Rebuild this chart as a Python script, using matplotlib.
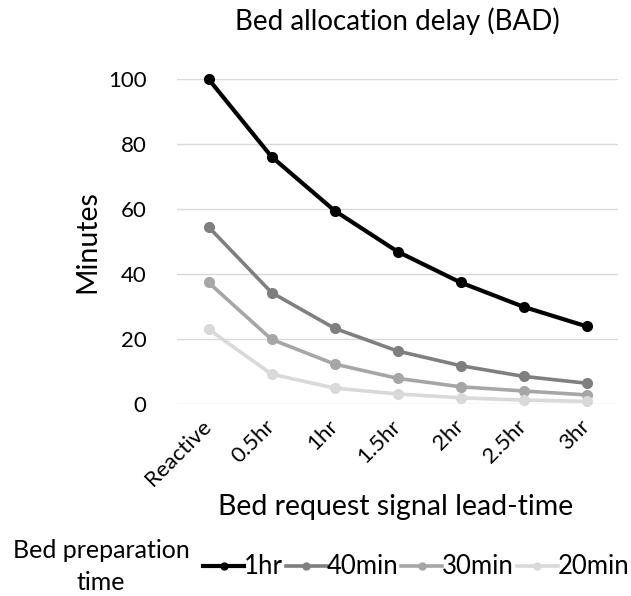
import matplotlib
matplotlib.use("Agg")
import matplotlib.pyplot as plt

plt.rcParams['font.family'] = ['Lato', 'DejaVu Sans']

categories = ["Reactive", "0.5hr", "1hr", "1.5hr", "2hr", "2.5hr", "3hr"]
series_names = ["1hr", "40min", "30min", "20min"]
s_1hr = [100, 76.1, 59.5, 46.9, 37.4, 29.9, 23.9]
s_40min = [54.5, 34.3, 23.3, 16.3, 11.8, 8.5, 6.4]
s_30min = [37.4, 19.9, 12.3, 7.9, 5.3, 4.0, 2.8]
s_20min = [23.0, 9.2, 4.9, 3.1, 1.9, 1.2, 0.8]
colors = ["#000000", "#7f7f7f", "#a6a6a6", "#d9d9d9"]
y_ticks = [0, 20, 40, 60, 80, 100]

fig = plt.figure(figsize=(6.31, 5.96), dpi=100)
ax = fig.add_axes([177/631, 1-404/596, (618-177)/631, (404-79)/596])

x = list(range(len(categories)))
for data, name, c, lw in zip([s_1hr, s_40min, s_30min, s_20min], series_names, colors, [3.0, 2.6, 2.6, 2.6]):
    ax.plot(x, data, color=c, lw=lw, marker='o', markersize=7, label=name, clip_on=False, zorder=3)

ax.set_xlim(-0.5, len(categories)-0.5)
ax.set_ylim(0, 100)
ax.set_yticks(y_ticks)
ax.set_xticks(x)
ax.set_xticklabels(categories, rotation=45, ha='right', va='center', rotation_mode='anchor')
ax.tick_params(axis='both', length=0, labelsize=16, colors='#000000')
ax.tick_params(axis='y', pad=22)
ax.tick_params(axis='x', pad=14)
ax.grid(axis='y', color='#d9d9d9', lw=1)
ax.set_axisbelow(True)
for s in ax.spines.values():
    s.set_visible(False)

fig.text(87/631, 1-242/596, "Minutes", ha='center', va='center', rotation=90, fontsize=20.5)
fig.text(397/631, 1-30/596, "Bed allocation delay (BAD)", ha='center', va='baseline', fontsize=20)
fig.text(396/631, 1-515/596, "Bed request signal lead-time", ha='center', va='baseline', fontsize=20.5)
fig.text(101/631, 1-558/596, "Bed preparation", ha='center', va='baseline', fontsize=18)
fig.text(101/631, 1-590/596, "time", ha='center', va='baseline', fontsize=18)

handles, labels = ax.get_legend_handles_labels()
leg = fig.legend(handles, labels, ncol=4, loc='center left', bbox_to_anchor=(203/631, 1-567/596),
                 frameon=False, fontsize=18.5, handlelength=1.6, handletextpad=0.0,
                 columnspacing=0.1, borderaxespad=0, borderpad=0)
for h in leg.legend_handles:
    h.set_markersize(5)

fig.savefig("out.png", dpi=100)
